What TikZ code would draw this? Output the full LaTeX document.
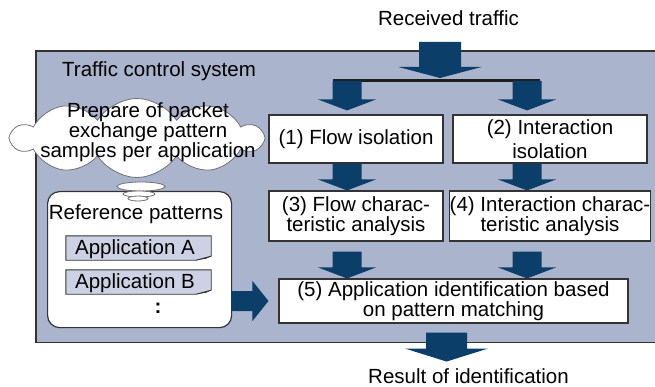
\documentclass[tikz,border=0pt]{standalone}
\usepackage{fontspec}
\setmainfont{Liberation Sans}
\usetikzlibrary{shapes.symbols,shapes.geometric,calc}

\definecolor{sysbg}{HTML}{AAB4CD}
\definecolor{navy}{HTML}{0B3E69}
\definecolor{appbg}{HTML}{CCD2E3}
\definecolor{edgegray}{HTML}{333333}
\definecolor{cloudgray}{HTML}{707070}
\definecolor{barcol}{HTML}{1E1E1E}

% downward block arrow: start, tip, half shaft, half head, head length
\newcommand\blockdown[5]{%
  \fill[navy] let \p1=#1, \p2=#2 in
    (\x1-#3,\y1) -- (\x1+#3,\y1) -- (\x1+#3,\y2+#5) -- (\x1+#4,\y2+#5)
    -- (\x1,\y2) -- (\x1-#4,\y2+#5) -- (\x1-#3,\y2+#5) -- cycle;}
% rightward block arrow: start, tip, half shaft, half head, head length
\newcommand\blockright[5]{%
  \fill[navy] let \p1=#1, \p2=#2 in
    (\x1,\y1+#3) -- (\x2-#5,\y1+#3) -- (\x2-#5,\y1+#4) -- (\x2,\y1)
    -- (\x2-#5,\y1-#4) -- (\x2-#5,\y1-#3) -- (\x1,\y1-#3) -- cycle;}

\tikzset{
  txt/.style={font=\fontsize{20.5}{19}\selectfont, inner sep=0pt},
  stage/.style={txt, draw=edgegray, fill=white, line width=1.1pt, align=center},
  bubble/.style={ellipse, draw=cloudgray, fill=white, line width=0.8pt, inner sep=0pt},
  appbox/.style={txt, minimum width=145pt, minimum height=24pt},
}

\begin{document}
\begin{tikzpicture}[x=1pt, y=-1pt]
\useasboundingbox (0,0) rectangle (655,387);

% traffic control system area
\node[fill=sysbg, inner sep=0pt, minimum width=619pt, minimum height=291pt,
      anchor=north west] (sys) at (36,51) {};
\draw[edgegray, line width=1.2pt] (sys.north east) -- (sys.north west)
  -- (sys.south west) -- (sys.south east);
\node[txt, anchor=base west] (systitle) at (62,77) {Traffic control system};

% incoming and outgoing labels
\node[txt, anchor=base] (rt) at (448.5,26) {Received traffic};
\node[txt, anchor=base] (res) at (468.5,383) {Result of identification};

% processing stages
\node[stage, minimum width=174pt, minimum height=48pt] (b1) at (356,139)
  {(1) Flow isolation};
\node[stage, minimum width=194pt, minimum height=48pt,
      font=\fontsize{20.5}{24}\selectfont] (b2) at (550,139)
  {(2) Interaction\\isolation};
\node[stage, minimum width=174pt, minimum height=50pt] (b3) at (356,216)
  {(3) Flow charac-\\teristic analysis};
\node[stage, minimum width=194pt, minimum height=50pt] (b4) at (550,216)
  {(4) Interaction charac-\\teristic analysis};
\node[stage, minimum width=349pt, minimum height=44pt] (b5) at (453.5,301)
  {(5) Application identification based\\on pattern matching};

% thought cloud
\node[cloud, cloud puffs=10, cloud puff arc=115, cloud ignores aspect,
      draw=cloudgray, fill=white, line width=0.8pt,
      minimum width=250pt, minimum height=79pt, inner sep=0pt]
  (cloud) at (137,138) {};
\node[txt, align=center, font=\fontsize{20.5}{17}\selectfont] (cloudtxt) at (148,132.5)
  {Prepare of packet\\exchange pattern\\samples per application};

% reference patterns store
\node[draw=edgegray, fill=white, rounded corners=12pt, line width=1.2pt,
      minimum width=184pt, minimum height=136pt, anchor=north west] (ref) at (47,191) {};
\node[txt, anchor=base] (reftitle) at (136,220) {Reference patterns};

\foreach \n/\y/\lab in {appA/248/Application A, appB/282/Application B}{
  \node[appbox] (\n) at (138.5,\y) {};
  \path[fill=appbg, draw=edgegray, line width=0.9pt]
    (\n.north west) -- (\n.north east) -- ($(\n.south east)+(0,-4)$)
    -- ($(\n.south east)+(-15,0)$) -- (\n.south west) -- cycle;
  \fill[edgegray] ($(\n.south east)+(0,-4)$) -- ($(\n.south east)+(-15,0)$)
    -- ($(\n.south east)+(-5,-1.5)$) -- cycle;
  \node[txt, anchor=base] at ($(\n.south)+(-3.5,-5.5)$) {\lab};
}
\node[txt, anchor=base] (more) at (158,313) {\textbf{:}};

% thought bubbles linking cloud and store
\node[bubble, minimum width=48pt, minimum height=9pt] (bub1) at (141,186.5) {};
\node[bubble, minimum width=32pt, minimum height=6pt] (bub2) at (139,194) {};
\node[bubble, minimum width=20pt, minimum height=5pt] (bub3) at (138,198.5) {};

% splitting bar and block arrows
\coordinate (inTop) at (440,42);
\coordinate (cl) at (347,0);
\coordinate (cr) at (527,0);
\coordinate (cout) at (446.5,0);
\coordinate (barL) at (333,81);
\coordinate (barR) at (540,81);

\blockdown{(inTop)}{($(inTop |- barL)+(0,-3)$)}{21pt}{41.5pt}{11pt}
\draw[barcol, line width=3pt] (barL) -- (barR);

\blockdown{(cl |- barL)}{($(b1.north -| cl)+(0,-4)$)}{14.5pt}{29pt}{11pt}
\blockdown{(cr |- barL)}{($(b2.north -| cr)+(0,-4)$)}{14.5pt}{29pt}{11pt}

\blockdown{(b1.south -| cl)}{(b3.north -| cl)}{14.5pt}{29pt}{11pt}
\blockdown{(b2.south -| cr)}{(b4.north -| cr)}{14.5pt}{29pt}{11pt}

\blockdown{($(b3.south -| cl)+(0,10)$)}{(b5.north -| cl)}{14.5pt}{29pt}{11pt}
\blockdown{($(b4.south -| cr)+(0,10)$)}{(b5.north -| cr)}{14.5pt}{29pt}{11pt}

\blockdown{($(b5.south -| cout)+(0,9)$)}{($(b5.south -| cout)+(0,38)$)}{20.5pt}{41.5pt}{13pt}

\blockright{(ref.east |- b5.west)}{($(b5.west)+(-10,0)$)}{10pt}{20pt}{16pt}
\end{tikzpicture}
\end{document}
